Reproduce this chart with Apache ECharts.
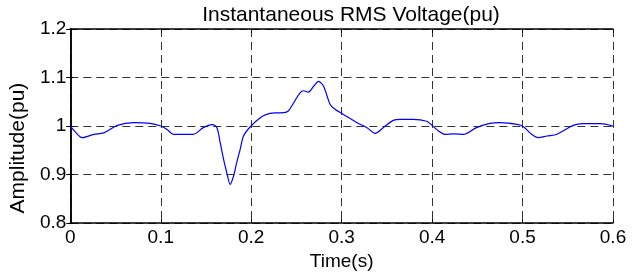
<!DOCTYPE html>
<html>
<head>
<meta charset="utf-8">
<script src="https://cdn.jsdelivr.net/npm/echarts@6/dist/echarts.min.js"></script>
<style>
  html,body{margin:0;padding:0;background:#fff;}
  #chart{width:644px;height:276px;}
</style>
</head>
<body>
<div id="chart"></div>
<script>
// time (s) and rms voltage (pu)
const times=[0,0.0055,0.013,0.026,0.037,0.052,0.07,0.088,0.1,0.107,0.114,0.125,0.136,0.147,0.157,0.162,0.1657,0.1694,0.173,0.1768,0.1805,0.184,0.1878,0.1915,0.199,0.21,0.217,0.226,0.236,0.241,0.247,0.254,0.258,0.263,0.269,0.2744,0.28,0.2873,0.293,0.302,0.317,0.328,0.337,0.346,0.357,0.365,0.379,0.394,0.4,0.407,0.414,0.424,0.435,0.449,0.464,0.475,0.494,0.501,0.51,0.5175,0.527,0.538,0.556,0.567,0.586,0.6]
const volts=[1.0,0.988,0.976,0.983,0.986,1.0015,1.007,1.0055,1.0,0.993,0.983,0.983,0.983,0.9967,1.003,0.997,0.966,0.932,0.904,0.880,0.897,0.925,0.952,0.9795,0.9985,1.017,1.024,1.027,1.0275,1.031,1.048,1.0686,1.0727,1.0698,1.082,1.092,1.082,1.0446,1.034,1.024,1.007,0.9967,0.985,0.9967,1.0117,1.0138,1.0138,1.010,1.0014,0.99,0.983,0.984,0.983,0.9967,1.0055,1.007,1.0035,0.9988,0.983,0.976,0.9795,0.983,1.0014,1.005,1.005,1.0]
const xTicks=[0,0.1,0.2,0.3,0.4,0.5,0.6]
const yTicks=[0.8,0.9,1,1.1,1.2]

const font='Liberation Sans, Arial, sans-serif'
const myChart=echarts.init(document.getElementById('chart'))

const gridDash={show:true,lineStyle:{color:'#333',type:[8,5],width:1}}
const option={
  animation:false,
  title:{
    text:'Instantaneous RMS Voltage(pu)',
    left:346,top:0,textAlign:'center',
    textStyle:{fontFamily:font,fontSize:21,fontWeight:'normal',color:'#000'}
  },
  grid:{left:70,right:31,top:29,bottom:52},
  xAxis:[{
    type:'value',min:0,max:0.6,interval:0.1,
    name:'Time(s)',nameLocation:'middle',nameGap:24,
    nameTextStyle:{fontFamily:font,fontSize:19,color:'#000'},
    axisLine:{show:true,lineStyle:{color:'#000',width:1.5}},
    axisTick:{show:true,inside:true,length:4,lineStyle:{color:'#000'}},
    axisLabel:{fontFamily:font,fontSize:19,color:'#000',margin:5,
      formatter:v=>xTicks.includes(+v.toFixed(1))?String(+v.toFixed(1)):''},
    splitLine:gridDash
  },{
    type:'value',min:0,max:0.6,interval:0.1,position:'top',
    axisLine:{show:true,lineStyle:{color:'#000',width:1.5}},
    axisTick:{show:true,inside:true,length:4,lineStyle:{color:'#000'}},
    axisLabel:{show:false},splitLine:{show:false}
  }],
  yAxis:[{
    type:'value',min:0.8,max:1.2,interval:0.1,
    name:'Amplitude(pu)',nameLocation:'middle',nameGap:41,
    nameTextStyle:{fontFamily:font,fontSize:21,color:'#000',padding:[0,0,0,-44]},
    axisLine:{show:true,lineStyle:{color:'#000',width:1.5}},
    axisTick:{show:true,inside:true,length:4,lineStyle:{color:'#000'}},
    axisLabel:{fontFamily:font,fontSize:19,color:'#000',margin:4,padding:[7,0,0,0],
      formatter:v=>{const r=+v.toFixed(1);return yTicks.includes(r)?String(r):''}},
    splitLine:gridDash
  },{
    type:'value',min:0.8,max:1.2,interval:0.1,position:'right',
    axisLine:{show:true,lineStyle:{color:'#000',width:1.5}},
    axisTick:{show:true,inside:true,length:4,lineStyle:{color:'#000'}},
    axisLabel:{show:false},splitLine:{show:false}
  }],
  series:[{
    type:'line',
    data:times.map((t,i)=>[t,volts[i]]),
    smooth:0.3,
    showSymbol:false,
    lineStyle:{color:'#0000ff',width:1.2}
  }]
}
myChart.setOption(option)
</script>
</body>
</html>
